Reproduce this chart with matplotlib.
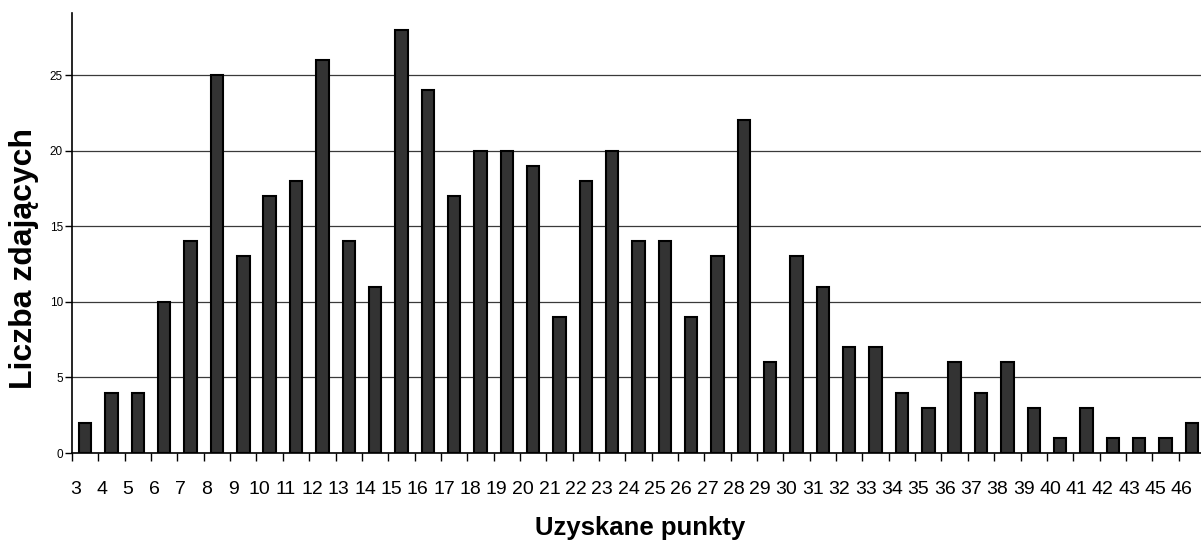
import matplotlib
matplotlib.use("Agg")
import matplotlib.pyplot as plt
import matplotlib.transforms as mtransforms
import numpy as np

# Rozkład wyników: uzyskane punkty vs liczba zdających
punkty = [3, 4, 5, 6, 7, 8, 9, 10, 11, 12, 13, 14, 15, 16, 17, 18, 19, 20, 21,
          22, 23, 24, 25, 26, 27, 28, 29, 30, 31, 32, 33, 34, 35, 36, 37, 38,
          39, 40, 41, 42, 43, 45, 46]
liczba = [2, 4, 4, 10, 14, 25, 13, 17, 18, 26, 14, 11, 28, 24, 17, 20, 20, 19,
          9, 18, 20, 14, 14, 9, 13, 22, 6, 13, 11, 7, 7, 4, 3, 6, 4, 6, 3, 1,
          3, 1, 1, 1, 2]
y_ticks = [0, 5, 10, 15, 20, 25]

plt.rcParams['font.family'] = ['Liberation Sans', 'DejaVu Sans']

fig = plt.figure(figsize=(12.01, 5.42), dpi=100)
ax = fig.add_axes([0.0600, 0.1642, 0.9433, 0.8118])

x = np.arange(len(punkty))
ax.bar(x, liczba, width=0.47, color='#333333', edgecolor='black',
       linewidth=1.5, zorder=3)

ax.set_xlim(-0.5, len(punkty) - 0.5)
ax.set_ylim(0, 29.1)

# siatka pozioma
ax.set_yticks(y_ticks)
ax.set_yticklabels([str(v) for v in y_ticks], fontsize=8.5)
ax.yaxis.grid(True, color='#3a3a3a', linewidth=0.9)
ax.set_axisbelow(True)
ax.tick_params(axis='y', direction='out', length=5, width=1, pad=1.5)

# znaczniki na granicach kategorii, etykiety pośrodku
ax.set_xticks(np.arange(len(punkty) + 1) - 0.5)
ax.set_xticklabels([])
ax.tick_params(axis='x', which='major', direction='out', length=6, width=1)
ax.set_xticks(x, minor=True)
ax.set_xticklabels([str(p) for p in punkty], minor=True, fontsize=14)
ax.tick_params(axis='x', which='minor', length=0, pad=20)
offset = mtransforms.ScaledTranslation(-10 / 100, 0, fig.dpi_scale_trans)
for lab in ax.xaxis.get_minorticklabels():
    lab.set_transform(lab.get_transform() + offset)

for s in ['top', 'right']:
    ax.spines[s].set_visible(False)
ax.spines['left'].set_linewidth(1.2)
ax.spines['bottom'].set_linewidth(1.2)

fig.text(0.533, 0.004, 'Uzyskane punkty', ha='center', va='bottom',
         fontsize=18.5, fontweight='bold')
fig.text(0.020, 0.523, 'Liczba zdających', ha='center', va='center',
         rotation=90, fontsize=23, fontweight='bold')

fig.savefig('out.png', dpi=100)
